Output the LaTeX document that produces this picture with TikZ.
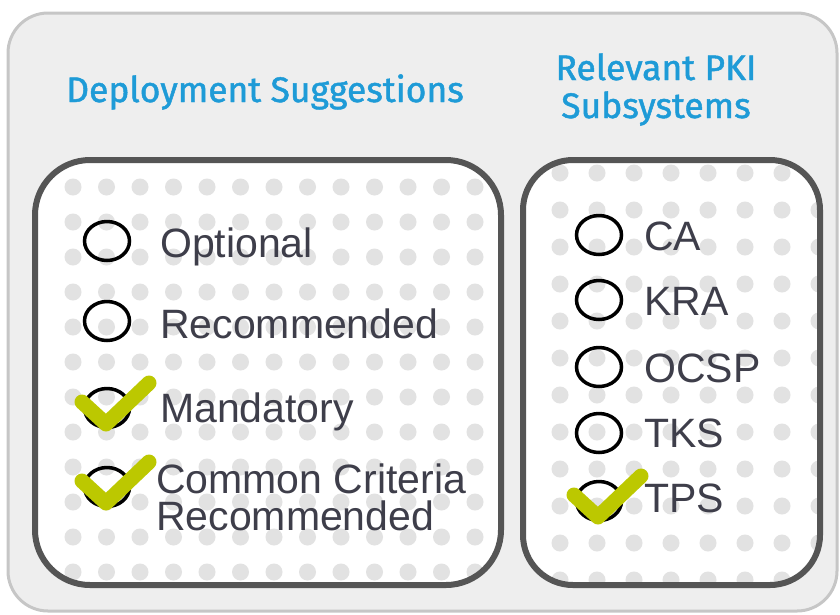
\documentclass[tikz,border=0pt]{standalone}
\usepackage{fontspec}
\setmainfont{Liberation Sans}
\newfontfamily\headfont[FakeBold=1.3]{Fira Sans}
\usetikzlibrary{shapes.geometric}
\definecolor{panelgray}{RGB}{238,238,238}
\definecolor{panelline}{RGB}{198,198,198}
\definecolor{boxline}{RGB}{85,85,85}
\definecolor{dotgray}{RGB}{226,226,226}
\definecolor{headblue}{RGB}{30,155,215}
\definecolor{itemgray}{RGB}{62,62,74}
\definecolor{tickgreen}{RGB}{188,200,0}
\tikzset{
	radio/.style={draw=black, line width=3.5pt, ellipse, minimum width=45pt, minimum height=39pt, inner sep=0pt},
	itemtext/.style={anchor=base west, inner sep=0pt, text=itemgray, font=\fontsize{41}{37}\selectfont, align=left},
	headtext/.style={anchor=base, inner sep=0pt, text=headblue, font=\headfont\fontsize{35.5}{38}\selectfont, align=center},
	tick/.style={draw=tickgreen, line width=15pt, line cap=round, line join=round}
}

\begin{document}
\begin{tikzpicture}[x=1pt, y=-1pt]
			\useasboundingbox (0,0) rectangle (840,614);
			\draw[panelline, fill=panelgray, line width=3pt, rounded corners=40pt] (8,13) rectangle (837,611);
			\node[headtext] (deptitle) at (265,102) {Deployment Suggestions};
			\node[headtext] (pkititle) at (656,118) {Relevant PKI\\Subsystems};
			\begin{scope}
				\clip[rounded corners=55pt] (35,160) rectangle (501,585);
				\fill[white] (35,160) rectangle (501,585);
				\foreach \x in {73,106.5,...,500}
					\foreach \y in {187,222,...,590}
						\fill[dotgray] (\x,\y) circle (8.5pt);
			\end{scope}
			\draw[boxline, line width=6pt, rounded corners=55pt] (35,160) rectangle (501,585);
			\begin{scope}
				\clip[rounded corners=50pt] (523,160) rectangle (820,585);
				\fill[white] (523,160) rectangle (820,585);
				\foreach \x in {560,597,...,830}
					\foreach \y in {173,210,...,590}
						\fill[dotgray] (\x,\y) circle (8.5pt);
			\end{scope}
			\draw[boxline, line width=6pt, rounded corners=50pt] (523,160) rectangle (820,585);
			\node[radio] (optional) at (107,241) {};
			\node[radio] (recommended) at (107,321) {};
			\node[radio] (mandatory) at (107,408) {};
			\node[radio] (criteria) at (107,487) {};
			\node[itemtext] (optionaltext) at (160,257) {Optional};
			\node[itemtext] (recommendedtext) at (160,338) {Recommended};
			\node[itemtext] (mandatorytext) at (160,422) {Mandatory};
			\node[itemtext] (criteriatext) at (156,530) {Common Criteria\\Recommended};
			\node[radio] (ca) at (599,235) {};
			\node[radio] (kra) at (599,300) {};
			\node[radio] (ocsp) at (599,367) {};
			\node[radio] (tks) at (599,433) {};
			\node[radio] (tps) at (599,501) {};
			\node[itemtext] (catext) at (644,250) {CA};
			\node[itemtext] (kratext) at (644,315) {KRA};
			\node[itemtext] (ocsptext) at (644,382) {OCSP};
			\node[itemtext] (tkstext) at (644,447) {TKS};
			\node[itemtext] (tpstext) at (644,512) {TPS};
			\foreach \n in {mandatory, criteria, tps}
				\draw[tick] ([shift={(-25,-6)}]\n.center) -- ([shift={(-1,16)}]\n.center) -- ([shift={(42,-25)}]\n.center);
		\end{tikzpicture}
\end{document}
